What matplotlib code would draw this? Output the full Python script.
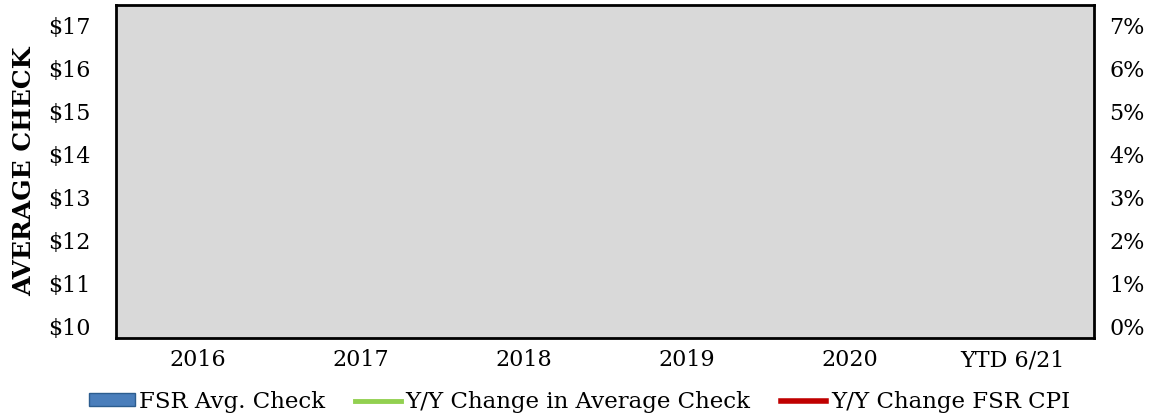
import matplotlib
matplotlib.use("Agg")
import matplotlib.pyplot as plt
import numpy as np

categories = ["2016", "2017", "2018", "2019", "2020", "YTD 6/21"]
# The reference chart shows no plotted values; series are empty (NaN)
avg_check = [np.nan] * 6
yy_change_check = [np.nan] * 6
yy_change_cpi = [np.nan] * 6
left_ticks = [10, 11, 12, 13, 14, 15, 16, 17]
right_ticks = [0, 1, 2, 3, 4, 5, 6, 7]

plt.rcParams['font.family'] = ['DejaVu Serif']

fig = plt.figure(figsize=(11.59, 4.19), dpi=100)
ax = fig.add_axes([116/1159, 1 - 338/419, (1094-116)/1159, (338-5)/419])
ax.set_facecolor('#d9d9d9')
x = np.arange(len(categories))
bars = ax.bar(x, avg_check, color='#4a7ebb', edgecolor='#2c5d8f', width=0.6,
              label='FSR Avg. Check')
ax.set_xlim(-0.5, len(categories) - 0.5)
pad_top = 20 / 43.1
pad_bot = 11 / 43.1
ax.set_ylim(10 - pad_bot, 17 + pad_top)
ax.set_yticks(left_ticks)
ax.set_yticklabels([f"${v}" for v in left_ticks], fontsize=16)
ax.set_xticks(x)
ax.set_xticklabels(categories, fontsize=16)
ax.tick_params(axis='y', length=0, pad=18)
ax.tick_params(axis='x', length=0, pad=8)
ax.set_ylabel('AVERAGE CHECK', fontsize=18, fontweight='bold', labelpad=9)
for s in ax.spines.values():
    s.set_linewidth(2)
    s.set_color('black')

ax2 = ax.twinx()
l1, = ax2.plot(x, yy_change_check, color='#92d050', lw=3.5,
               label='Y/Y Change in Average Check')
l2, = ax2.plot(x, yy_change_cpi, color='#c00000', lw=4,
               label='Y/Y Change FSR CPI')
ax2.set_ylim(0 - pad_bot, 7 + pad_top)
ax2.set_yticks(right_ticks)
ax2.set_yticklabels([f"{v}%" for v in right_ticks], fontsize=16)
ax2.tick_params(axis='y', length=0, pad=11)
for s in ax2.spines.values():
    s.set_visible(False)

fig.legend([bars, l1, l2],
           ['FSR Avg. Check', 'Y/Y Change in Average Check', 'Y/Y Change FSR CPI'],
           loc='center', bbox_to_anchor=(0.5, 1 - 402/419), ncol=3, frameon=False,
           fontsize=16.5, handlelength=2.0, handleheight=0.5, handletextpad=0.2,
           columnspacing=1.3)

fig.savefig('out.png', dpi=100)
